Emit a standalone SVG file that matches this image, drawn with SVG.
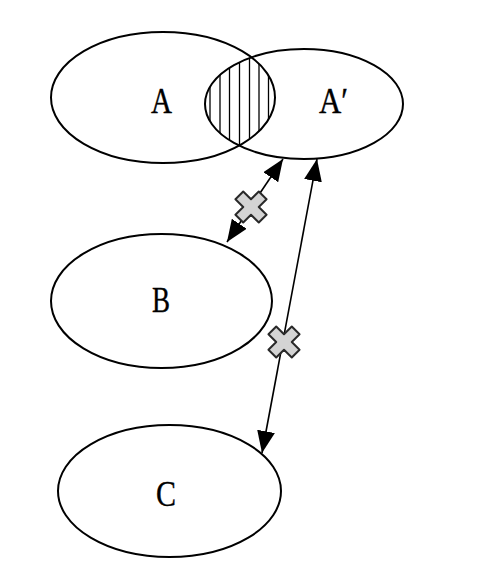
<svg xmlns="http://www.w3.org/2000/svg" width="487" height="581" viewBox="0 0 487 581">
<style>
.ell{fill:none;stroke:#000;stroke-width:2}
.lbl{font-family:"Liberation Serif","Times New Roman",serif;font-size:36px;fill:#000;text-anchor:middle;stroke:#000;stroke-width:0.4}
.con{stroke:#000;stroke-width:1.6;fill:none;marker-start:url(#ah);marker-end:url(#ah)}
.xm{fill:#d4d4d4;stroke:#2a2a2a;stroke-width:2;stroke-linejoin:round}
.hatch{stroke:#000;stroke-width:1.3}
</style>
<defs>
<marker id="ah" markerUnits="userSpaceOnUse" viewBox="0 0 22 18" refX="22" refY="9" markerWidth="22" markerHeight="18" orient="auto-start-reverse">
<path d="M0,0 L22,9 L0,18 z" fill="#000"/>
</marker>
<clipPath id="clipA"><ellipse cx="163" cy="97.5" rx="112" ry="65.5"/></clipPath>
<clipPath id="clipA2"><ellipse cx="304" cy="104" rx="99" ry="55"/></clipPath>
<path id="xshape" d="M-5.5,-16.5 H5.5 V-5.5 H16.5 V5.5 H5.5 V16.5 H-5.5 V5.5 H-16.5 V-5.5 H-5.5 Z"/>
</defs>
<g id="hatching" clip-path="url(#clipA)">
<g clip-path="url(#clipA2)">
<path class="hatch" d="M210,40 V170 M220,40 V170 M229.5,40 V170 M239.5,40 V170 M249.5,40 V170 M259,40 V170 M268.5,40 V170"/>
</g>
</g>
<g id="nodeA">
<ellipse class="ell" cx="163" cy="97.5" rx="112" ry="65.5"/>
<text class="lbl" x="161.5" y="113" textLength="21" lengthAdjust="spacingAndGlyphs">A</text>
</g>
<g id="nodeA2">
<ellipse class="ell" cx="304" cy="104" rx="99" ry="55"/>
<text class="lbl" x="333.5" y="113" textLength="29" lengthAdjust="spacingAndGlyphs">A′</text>
</g>
<g id="nodeB">
<ellipse class="ell" cx="161.5" cy="301" rx="110.5" ry="67"/>
<text class="lbl" x="161" y="312" textLength="18" lengthAdjust="spacingAndGlyphs">B</text>
</g>
<g id="nodeC">
<ellipse class="ell" cx="169.5" cy="491" rx="111.5" ry="66"/>
<text class="lbl" x="166" y="506" textLength="20" lengthAdjust="spacingAndGlyphs">C</text>
</g>
<g id="connectors">
<line class="con" x1="283" y1="159" x2="227" y2="242"/>
<line class="con" x1="317" y1="159" x2="262" y2="453"/>
<use href="#xshape" class="xm" transform="translate(251,207) rotate(45)"/>
<use href="#xshape" class="xm" transform="translate(284,342) rotate(45)"/>
</g>
</svg>
